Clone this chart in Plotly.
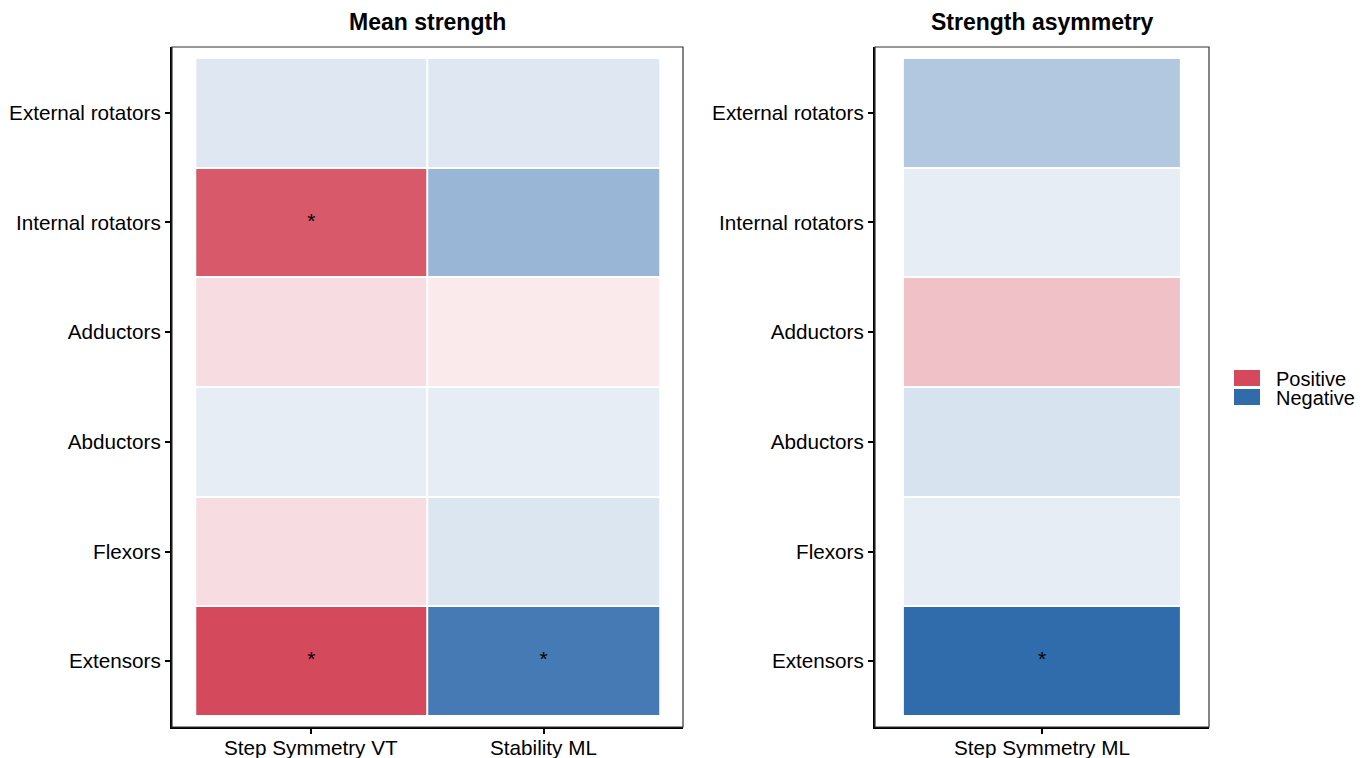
import plotly.graph_objects as go

# Muscle groups (bottom to top) and outcome measures
muscles = ["Extensors", "Flexors", "Abductors", "Adductors",
           "Internal rotators", "External rotators"]
mean_outcomes = ["Step Symmetry VT", "Stability ML"]
asym_outcomes = ["Step Symmetry ML"]

# Correlation coefficients, one list per outcome (ordered as `muscles`)
mean_step_sym_vt = [0.59, 0.11, -0.07, 0.11, 0.54, -0.09]
mean_stability_ml = [-0.53, -0.10, -0.07, 0.07, -0.29, -0.09]
asym_step_sym_ml = [-0.59, -0.07, -0.11, 0.20, -0.07, -0.22]

# Significance flags (ordered as `muscles`)
sig_step_sym_vt = [True, False, False, False, True, False]
sig_stability_ml = [True, False, False, False, False, False]
sig_asym_ml = [True, False, False, False, False, False]

legend_labels = ["Positive", "Negative"]
POS = "#D44A5C"
NEG = "#306BAC"
LIM = 0.59
colorscale = [[0.0, NEG], [0.5, "#FFFFFF"], [1.0, POS]]
FONT = "Liberation Sans, Arial, sans-serif"
TICK_SIZE = 20.7

fig = go.Figure()

# Mean strength panel
z_mean = [[a, b] for a, b in zip(mean_step_sym_vt, mean_stability_ml)]
fig.add_trace(go.Heatmap(
    z=z_mean, x=list(range(len(mean_outcomes))), y=list(range(len(muscles))),
    colorscale=colorscale, zmin=-LIM, zmax=LIM, showscale=False,
    xgap=2, ygap=2, hoverinfo="skip", xaxis="x", yaxis="y"))

# Strength asymmetry panel
z_asym = [[v] for v in asym_step_sym_ml]
fig.add_trace(go.Heatmap(
    z=z_asym, x=[0], y=list(range(len(muscles))),
    colorscale=colorscale, zmin=-LIM, zmax=LIM, showscale=False,
    xgap=2, ygap=2, hoverinfo="skip", xaxis="x2", yaxis="y2"))

# Significance stars
sx, sy = [], []
for j, flags in enumerate([sig_step_sym_vt, sig_stability_ml]):
    for i, f in enumerate(flags):
        if f:
            sx.append(j)
            sy.append(i)
fig.add_trace(go.Scatter(x=sx, y=sy, mode="text", text=["*"] * len(sx),
                         textfont=dict(size=21, color="black", family=FONT),
                         hoverinfo="skip", showlegend=False, xaxis="x", yaxis="y"))
ax, ay = [], []
for i, f in enumerate(sig_asym_ml):
    if f:
        ax.append(0)
        ay.append(i)
fig.add_trace(go.Scatter(x=ax, y=ay, mode="text", text=["*"] * len(ax),
                         textfont=dict(size=21, color="black", family=FONT),
                         hoverinfo="skip", showlegend=False, xaxis="x2", yaxis="y2"))

W, H = 1370, 758
y_dom = [(H - 727) / H, (H - 47) / H]

axis_common = dict(showgrid=False, zeroline=False, showline=True,
                   linecolor="black", linewidth=2, ticks="outside",
                   ticklen=5, tickwidth=2, tickcolor="black",
                   tickfont=dict(size=TICK_SIZE, color="black", family=FONT),
                   automargin=False, fixedrange=True)

fig.update_layout(
    width=W, height=H,
    margin=dict(l=0, r=0, t=0, b=0),
    paper_bgcolor="white", plot_bgcolor="white",
    showlegend=False,
    xaxis=dict(domain=[172 / W, 683 / W], range=[-0.6, 1.6],
               tickvals=list(range(len(mean_outcomes))), showticklabels=False,
               anchor="y", **axis_common),
    yaxis=dict(domain=y_dom, range=[-0.6, 5.6],
               tickvals=list(range(len(muscles))), ticktext=muscles,
               anchor="x", **axis_common),
    xaxis2=dict(domain=[875 / W, 1209 / W], range=[-0.6, 0.6],
                tickvals=[0], showticklabels=False,
                anchor="y2", **axis_common),
    yaxis2=dict(domain=y_dom, range=[-0.6, 5.6],
                tickvals=list(range(len(muscles))), ticktext=muscles,
                anchor="x2", **axis_common),
)

# Category labels under the x axes
for xr, labels in [("x", mean_outcomes), ("x2", asym_outcomes)]:
    for j, lab in enumerate(labels):
        fig.add_annotation(text=lab, xref=xr, yref="paper", x=j,
                           y=(H - 747) / H, showarrow=False,
                           xanchor="center", yanchor="middle",
                           font=dict(size=TICK_SIZE, color="black", family=FONT))

# Panel borders
for xr, yr in [("x domain", "y domain"), ("x2 domain", "y2 domain")]:
    fig.add_shape(type="rect", xref=xr, yref=yr, x0=0, x1=1, y0=0, y1=1,
                  line=dict(color="#333333", width=1.2), fillcolor="rgba(0,0,0,0)",
                  layer="above")

# Panel titles
for txt, xr in [("Mean strength", "x domain"), ("Strength asymmetry", "x2 domain")]:
    fig.add_annotation(text="<b>" + txt + "</b>", xref=xr, yref="paper",
                       x=0.5, y=(H - 22) / H, showarrow=False,
                       font=dict(size=23, color="black", family=FONT),
                       xanchor="center", yanchor="middle")

# Legend
for k, (lab, col) in enumerate(zip(legend_labels, [POS, NEG])):
    yc = 378 + 19 * k
    fig.add_shape(type="rect", xref="paper", yref="paper",
                  x0=1234 / W, x1=1260 / W,
                  y0=(H - yc - 8) / H, y1=(H - yc + 8) / H,
                  fillcolor=col, line=dict(width=0))
    fig.add_annotation(text=lab, xref="paper", yref="paper",
                       x=1274 / W, y=(H - yc - 1) / H, showarrow=False,
                       xanchor="left", yanchor="middle",
                       font=dict(size=20, color="black", family=FONT))

fig.write_html("out.html")
